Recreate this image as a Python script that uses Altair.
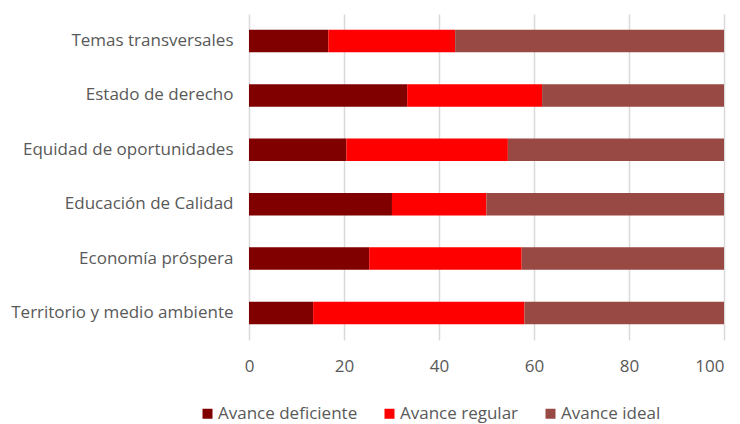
import altair as alt
import pandas as pd

categorias = ["Temas transversales", "Estado de derecho", "Equidad de oportunidades",
              "Educación de Calidad", "Economía próspera", "Territorio y medio ambiente"]
deficiente = [16.7, 33.3, 20.5, 30.1, 25.3, 13.5]
regular = [26.7, 28.4, 34.0, 19.9, 32.1, 44.5]
ideal = [56.6, 38.3, 45.5, 50.0, 42.6, 42.0]
series = ["Avance deficiente", "Avance regular", "Avance ideal"]
colores = ["#800000", "#FF0000", "#984943"]

rows = []
for i, c in enumerate(categorias):
    for k, (s, vals) in enumerate(zip(series, [deficiente, regular, ideal])):
        rows.append({"categoria": c, "serie": s, "valor": vals[i], "orden": k})
df = pd.DataFrame(rows)

FONT = "Open Sans"
FS = 17

chart = alt.Chart(df).mark_bar().encode(
    y=alt.Y("categoria:N", sort=categorias, title=None,
            scale=alt.Scale(paddingInner=0.585, paddingOuter=0.29),
            axis=alt.Axis(domain=False, ticks=False, labelFontSize=FS, labelColor="#595959",
                          labelFont=FONT, labelPadding=16, labelLimit=300, grid=False)),
    x=alt.X("valor:Q", stack="zero", title=None,
            scale=alt.Scale(domain=[0, 100], nice=False),
            axis=alt.Axis(values=[0, 20, 40, 60, 80, 100], domain=False, ticks=False,
                          labelFontSize=FS, labelColor="#595959", labelFont=FONT,
                          labelPadding=18, grid=True, gridColor="#d9d9d9", gridWidth=1.5,
                          labelFlush=False,
                          labelAlign=alt.ExprRef(expr="datum.value == 100 ? 'right' : 'center'"))),
    color=alt.Color("serie:N", sort=series,
                    scale=alt.Scale(domain=series, range=colores),
                    legend=alt.Legend(title=None, orient="none", direction="horizontal",
                                      legendX=-50, legendY=391, symbolType="square",
                                      symbolSize=100, symbolStrokeWidth=0,
                                      labelFontSize=FS, labelColor="#595959", labelFont=FONT,
                                      columnPadding=23, labelOffset=2)),
    order=alt.Order("orden:Q"),
).properties(
    width=475, height=326,
    autosize=alt.AutoSizeParams(type="none"),
    padding={"left": 241, "top": 6, "right": 8, "bottom": 83},
).configure_view(stroke=None)

chart.save("out.html", embed_options={"renderer": "svg", "actions": False})
